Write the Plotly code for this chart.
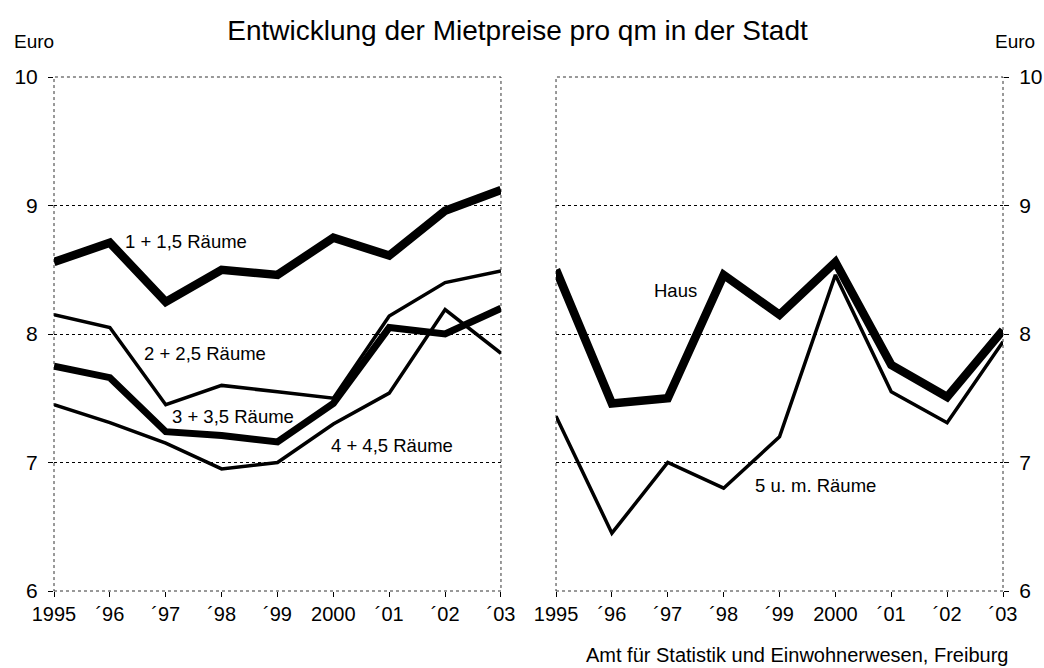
import plotly.graph_objects as go
from plotly.subplots import make_subplots

years = [1995, 1996, 1997, 1998, 1999, 2000, 2001, 2002, 2003]
year_labels = ["1995", "´96", "´97", "´98", "´99", "2000", "´01", "´02", "´03"]

# linkes Feld: Wohnungen nach Raumzahl
rooms_1 = [8.56, 8.71, 8.25, 8.50, 8.46, 8.75, 8.61, 8.96, 9.12]
rooms_2 = [8.15, 8.05, 7.45, 7.60, 7.55, 7.50, 8.14, 8.40, 8.49]
rooms_3 = [7.75, 7.66, 7.24, 7.21, 7.16, 7.46, 8.05, 8.00, 8.20]
rooms_4 = [7.45, 7.31, 7.15, 6.95, 7.00, 7.30, 7.54, 8.19, 7.85]

# rechtes Feld
haus = [8.50, 7.46, 7.50, 8.46, 8.15, 8.56, 7.76, 7.51, 8.03]
rooms_5 = [7.36, 6.45, 7.00, 6.80, 7.20, 8.46, 7.55, 7.31, 7.94]

FONT = "Liberation Sans, Arial, sans-serif"

fig = make_subplots(rows=1, cols=2, horizontal_spacing=0.058)

left_series = [
    (rooms_4, 3.5),
    (rooms_2, 3.5),
    (rooms_3, 7),
    (rooms_1, 8.5),
]
for values, width in left_series:
    fig.add_trace(
        go.Scatter(x=years, y=values, mode="lines",
                   line={"color": "black", "width": width}, cliponaxis=False),
        row=1, col=1,
    )

right_series = [
    (rooms_5, 3.5),
    (haus, 8.5),
]
for values, width in right_series:
    fig.add_trace(
        go.Scatter(x=years, y=values, mode="lines",
                   line={"color": "black", "width": width}, cliponaxis=False),
        row=1, col=2,
    )

labels = [
    ("x", "y", 1996.24, 8.72, "1 + 1,5 Räume"),
    ("x", "y", 1996.57, 7.85, "2 + 2,5 Räume"),
    ("x", "y", 1997.08, 7.36, "3 + 3,5 Räume"),
    ("x", "y", 1999.92, 7.13, "4 + 4,5 Räume"),
    ("x2", "y2", 1996.71, 8.34, "Haus"),
    ("x2", "y2", 1998.53, 6.82, "5 u. m. Räume"),
]
for xref, yref, xv, yv, text in labels:
    fig.add_annotation(x=xv, y=yv, xref=xref, yref=yref, text=text,
                       showarrow=False, xanchor="left", yanchor="middle",
                       font={"size": 18.5, "color": "black", "family": FONT})

# Rahmen (gepunktet)
for xd, yd in (("x domain", "y domain"), ("x2 domain", "y2 domain")):
    fig.add_shape(type="rect", xref=xd, yref=yd, x0=0, x1=1, y0=0, y1=1,
                  line={"color": "#333333", "width": 1, "dash": "dot"},
                  layer="below")

fig.update_xaxes(
    range=[1995, 2003],
    tickmode="array",
    tickvals=years,
    ticktext=year_labels,
    ticks="outside",
    ticklen=5,
    tickcolor="black",
    showgrid=False,
    zeroline=False,
    showline=False,
    automargin=False,
    tickfont={"size": 20, "color": "black", "family": FONT},
)
fig.update_yaxes(
    range=[6, 10],
    dtick=1,
    ticks="outside",
    ticklen=5,
    tickcolor="black",
    ticklabelstandoff=6,
    showgrid=True,
    gridcolor="black",
    gridwidth=1,
    griddash="dot",
    zeroline=False,
    showline=False,
    automargin=False,
    tickfont={"size": 21, "color": "black", "family": FONT},
)
fig.update_yaxes(side="right", row=1, col=2)

fig.update_layout(
    width=1044,
    height=668,
    margin={"l": 54, "r": 41, "t": 77, "b": 77, "autoexpand": False},
    paper_bgcolor="white",
    plot_bgcolor="white",
    showlegend=False,
    font={"family": FONT, "color": "black"},
    title={
        "text": "Entwicklung der Mietpreise pro qm in der Stadt",
        "x": 0.4957,
        "xanchor": "center",
        "xref": "container",
        "y": 0.955,
        "yanchor": "middle",
        "yref": "container",
        "font": {"size": 28, "color": "black", "family": FONT},
    },
)

# Randtexte
edge_font = {"size": 19, "color": "black", "family": FONT}
fig.add_annotation(text="Euro", x=-0.0443, y=1.07, xref="paper", yref="paper",
                   xanchor="left", yanchor="middle", showarrow=False,
                   font=edge_font)
fig.add_annotation(text="Euro", x=1.0358, y=1.07, xref="paper", yref="paper",
                   xanchor="right", yanchor="middle", showarrow=False,
                   font=edge_font)
fig.add_annotation(text="Amt für Statistik und Einwohnerwesen, Freiburg",
                   x=1.0074, y=-0.1245, xref="paper", yref="paper",
                   xanchor="right", yanchor="middle", showarrow=False,
                   font={"size": 20, "color": "black", "family": FONT})

fig.write_html(
    "out.html",
    config={"displayModeBar": False},
    post_script="document.body.style.margin='0px';",
)
